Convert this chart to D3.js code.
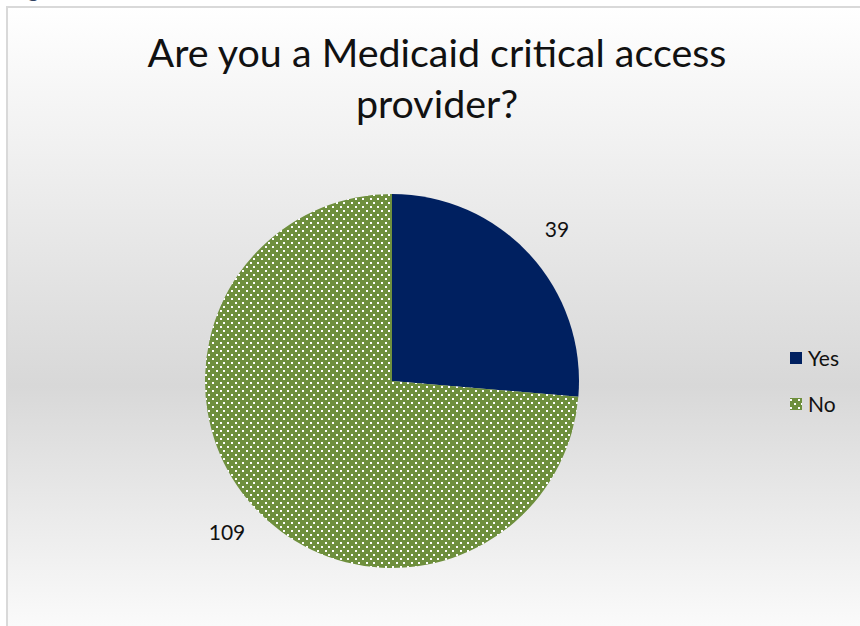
<!DOCTYPE html>
<html>
<head>
<meta charset="utf-8">
<script src="https://cdn.jsdelivr.net/npm/d3@7"></script>
<style>
  html, body { margin: 0; padding: 0; background: #ffffff; }
  svg { display: block; }
</style>
</head>
<body>
<div id="chart"></div>
<script>
// Survey answers
const categories = ["Yes", "No"];
const counts = [39, 109];
const colors = ["#002060", "#6e8f3d"];
const titleLines = ["Are you a Medicaid critical access", "provider?"];

const W = 860, H = 626;
const svg = d3.select("#chart").append("svg")
  .attr("width", W).attr("height", H);

const defs = svg.append("defs");

// Chart area background: light at the edges, grey through the middle
const grad = defs.append("linearGradient")
  .attr("id", "bg").attr("gradientUnits", "userSpaceOnUse")
  .attr("x1", 0).attr("y1", 7).attr("x2", 0).attr("y2", 660);
grad.append("stop").attr("offset", 0).attr("stop-color", "#ffffff");
grad.append("stop").attr("offset", 0.58).attr("stop-color", "#d8d8d8");
grad.append("stop").attr("offset", 1).attr("stop-color", "#ffffff");

// Dotted fill for the "No" slice
const pat = defs.append("pattern")
  .attr("id", "dots").attr("patternUnits", "userSpaceOnUse")
  .attr("width", 15).attr("height", 8);
pat.append("rect").attr("width", 15).attr("height", 8).attr("fill", colors[1]);
[[0, 1], [8, 1], [4, 5], [11, 5]].forEach(([x, y]) => {
  pat.append("rect").attr("x", x).attr("y", y)
    .attr("width", 2).attr("height", 2).attr("fill", "#ffffff");
});
const fills = ["" + colors[0], "url(#dots)"];

// Fragment of the caption above the chart frame
svg.append("text")
  .attr("x", 28).attr("y", -3)
  .attr("font-family", "Lato, 'Noto Sans', sans-serif")
  .attr("font-weight", "bold")
  .attr("font-size", 20)
  .attr("fill", "#2f4160")
  .text("g");

// Chart frame
svg.append("rect")
  .attr("x", 7).attr("y", 7)
  .attr("width", W + 20).attr("height", H + 20)
  .attr("fill", "url(#bg)")
  .attr("stroke", "#d9d9d9").attr("stroke-width", 2);

// Title
const title = svg.append("text")
  .attr("text-anchor", "middle")
  .attr("font-family", "Lato, 'Noto Sans', sans-serif")
  .attr("font-size", 38)
  .attr("fill", "#111111");
titleLines.forEach((line, i) => {
  title.append("tspan")
    .attr("x", 437).attr("y", 67 + i * 51)
    .text(line);
});
// Fit first line to its width
const firstLen = title.select("tspan").node().getComputedTextLength();
if (firstLen > 0) title.attr("font-size", 38 * 579 / firstLen);

// Pie
const cx = 392, cy = 381, r = 187;
const pie = d3.pie().sort(null).value(d => d)(counts);
const arc = d3.arc().innerRadius(0).outerRadius(r);
const labelArc = d3.arc().innerRadius(224).outerRadius(224);

const g = svg.append("g").attr("transform", `translate(${cx},${cy})`);
g.selectAll("path.slice").data(pie).join("path")
  .attr("class", "slice")
  .attr("d", arc)
  .attr("fill", (d, i) => fills[i]);

g.selectAll("text.val").data(pie).join("text")
  .attr("class", "val")
  .attr("transform", d => `translate(${labelArc.centroid(d)})`)
  .attr("text-anchor", "middle")
  .attr("dy", "0.35em")
  .attr("font-family", "Lato, 'Noto Sans', sans-serif")
  .attr("font-size", 21)
  .attr("fill", "#111111")
  .text(d => d.data);

// Legend
const legend = svg.append("g").attr("transform", "translate(790,352)");
categories.forEach((c, i) => {
  const row = legend.append("g").attr("transform", `translate(0,${i * 46})`);
  row.append("rect").attr("width", 12).attr("height", 12).attr("fill", fills[i]);
  row.append("text")
    .attr("x", 18).attr("y", 6).attr("dy", "0.36em")
    .attr("font-family", "Lato, 'Noto Sans', sans-serif")
    .attr("font-size", 21)
    .attr("fill", "#111111")
    .text(c);
});
</script>
</body>
</html>
